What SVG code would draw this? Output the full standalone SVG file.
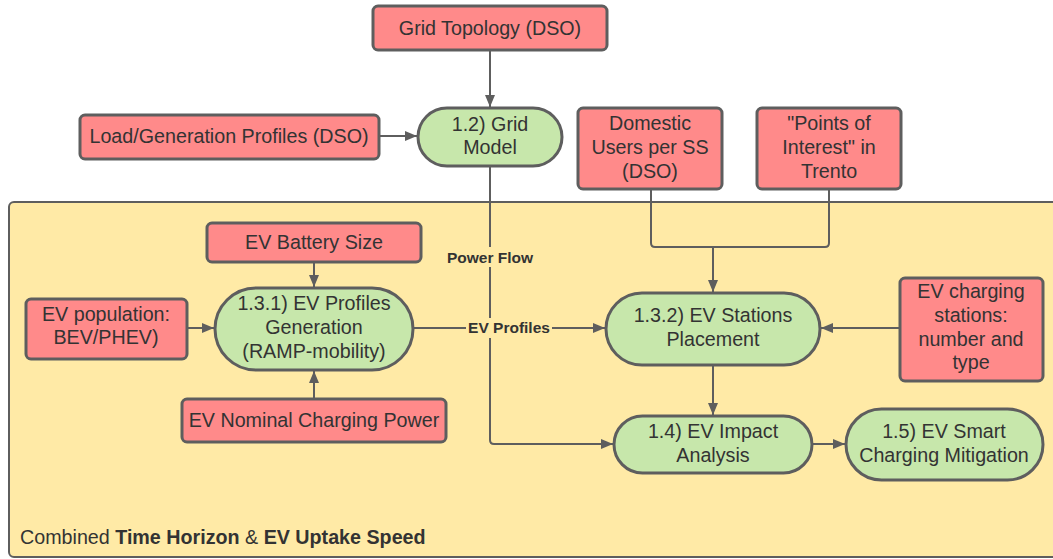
<svg xmlns="http://www.w3.org/2000/svg" width="1053" height="559" viewBox="0 0 1053 559">
<style>
.box{fill:#ff8a8a;stroke:#5e5e5e;stroke-width:3}
.proc{fill:#c7e7ab;stroke:#5e5e5e;stroke-width:3}
.t{font-family:"Liberation Sans",Arial,sans-serif;font-size:19.7px;fill:#333333;text-anchor:middle;dominant-baseline:central}
.lbl{font-family:"Liberation Sans",Arial,sans-serif;font-size:15.5px;font-weight:bold;fill:#333333;text-anchor:middle;dominant-baseline:central}
.c{fill:none;stroke:#5e5e5e;stroke-width:2}
</style>
<defs>
<marker id="ah" markerWidth="12" markerHeight="10" refX="12" refY="5" orient="auto" markerUnits="userSpaceOnUse">
<path d="M0,0 L12,5 L0,10 Z" fill="#5e5e5e"/>
</marker>
</defs>
<rect width="1053" height="559" fill="#ffffff"/>
<g id="container">
<rect x="9" y="202" width="1060" height="355" rx="5" fill="#ffeaa6" stroke="#5e5e5e" stroke-width="2"/>
<text x="20" y="537" style="font-family:'Liberation Sans',Arial,sans-serif;font-size:19.7px;fill:#333333;dominant-baseline:central">Combined <tspan font-weight="bold">Time Horizon</tspan> &amp; <tspan font-weight="bold">EV Uptake Speed</tspan></text>
</g>
<g id="connectors">
<path class="c" d="M490,50 V107" marker-end="url(#ah)"/>
<path class="c" d="M379,136 H417" marker-end="url(#ah)"/>
<path class="c" d="M651,189 V243 Q651,247 655,247 H825 Q829,247 829,243 V189"/>
<path class="c" d="M713,247 V292" marker-end="url(#ah)"/>
<path class="c" d="M490,166 V440 Q490,444 494,444 H613" marker-end="url(#ah)"/>
<path class="c" d="M413,328 H605" marker-end="url(#ah)"/>
<path class="c" d="M314,262 V287" marker-end="url(#ah)"/>
<path class="c" d="M187,328 H214" marker-end="url(#ah)"/>
<path class="c" d="M314,399 V371" marker-end="url(#ah)"/>
<path class="c" d="M900,328 H821" marker-end="url(#ah)"/>
<path class="c" d="M713,365 V415" marker-end="url(#ah)"/>
<path class="c" d="M812,444 H845" marker-end="url(#ah)"/>
<rect x="445" y="247" width="90" height="20" fill="#ffeaa6"/>
<text class="lbl" x="490" y="257">Power Flow</text>
<rect x="466" y="318" width="86" height="20" fill="#ffeaa6"/>
<text class="lbl" x="509" y="327">EV Profiles</text>
</g>
<g id="grid-topology">
<rect class="box" x="373" y="6" width="234" height="44" rx="5"/>
<text class="t" x="490" y="28">Grid Topology (DSO)</text>
</g>
<g id="load-generation">
<rect class="box" x="80" y="115" width="299" height="44" rx="5"/>
<text class="t" x="229" y="136">Load/Generation Profiles (DSO)</text>
</g>
<g id="grid-model">
<rect class="proc" x="418" y="108" width="144" height="58" rx="29"/>
<text class="t" x="490" y="124">1.2) Grid</text>
<text class="t" x="490" y="147">Model</text>
</g>
<g id="domestic-users">
<rect class="box" x="578" y="108" width="144" height="81" rx="5"/>
<text class="t" x="650" y="123">Domestic</text>
<text class="t" x="650" y="147">Users per SS</text>
<text class="t" x="650" y="171">(DSO)</text>
</g>
<g id="points-of-interest">
<rect class="box" x="757" y="108" width="144" height="81" rx="5"/>
<text class="t" x="829" y="123">"Points of</text>
<text class="t" x="829" y="147">Interest" in</text>
<text class="t" x="829" y="171">Trento</text>
</g>
<g id="battery-size">
<rect class="box" x="207" y="223" width="214" height="39" rx="5"/>
<text class="t" x="314" y="242">EV Battery Size</text>
</g>
<g id="ev-population">
<rect class="box" x="26" y="299" width="161" height="60" rx="5"/>
<text class="t" x="106" y="314">EV population:</text>
<text class="t" x="106" y="337">BEV/PHEV)</text>
</g>
<g id="profiles-generation">
<rect class="proc" x="215" y="288" width="198" height="82" rx="41"/>
<text class="t" x="314" y="303">1.3.1) EV Profiles</text>
<text class="t" x="314" y="327">Generation</text>
<text class="t" x="314" y="351">(RAMP-mobility)</text>
</g>
<g id="nominal-power">
<rect class="box" x="182" y="399" width="264" height="43" rx="5"/>
<text class="t" x="314" y="420">EV Nominal Charging Power</text>
</g>
<g id="stations-placement">
<rect class="proc" x="606" y="293" width="214" height="72" rx="36"/>
<text class="t" x="713" y="315">1.3.2) EV Stations</text>
<text class="t" x="713" y="339">Placement</text>
</g>
<g id="charging-stations">
<rect class="box" x="900" y="278" width="143" height="103" rx="5"/>
<text class="t" x="971" y="291">EV charging</text>
<text class="t" x="971" y="315">stations:</text>
<text class="t" x="971" y="339">number and</text>
<text class="t" x="971" y="362">type</text>
</g>
<g id="impact-analysis">
<rect class="proc" x="614" y="416" width="198" height="57" rx="28.5"/>
<text class="t" x="713" y="431">1.4) EV Impact</text>
<text class="t" x="713" y="455">Analysis</text>
</g>
<g id="smart-charging">
<rect class="proc" x="846" y="409" width="197" height="71" rx="35.5"/>
<text class="t" x="944" y="431">1.5) EV Smart</text>
<text class="t" x="944" y="455">Charging Mitigation</text>
</g>
</svg>
